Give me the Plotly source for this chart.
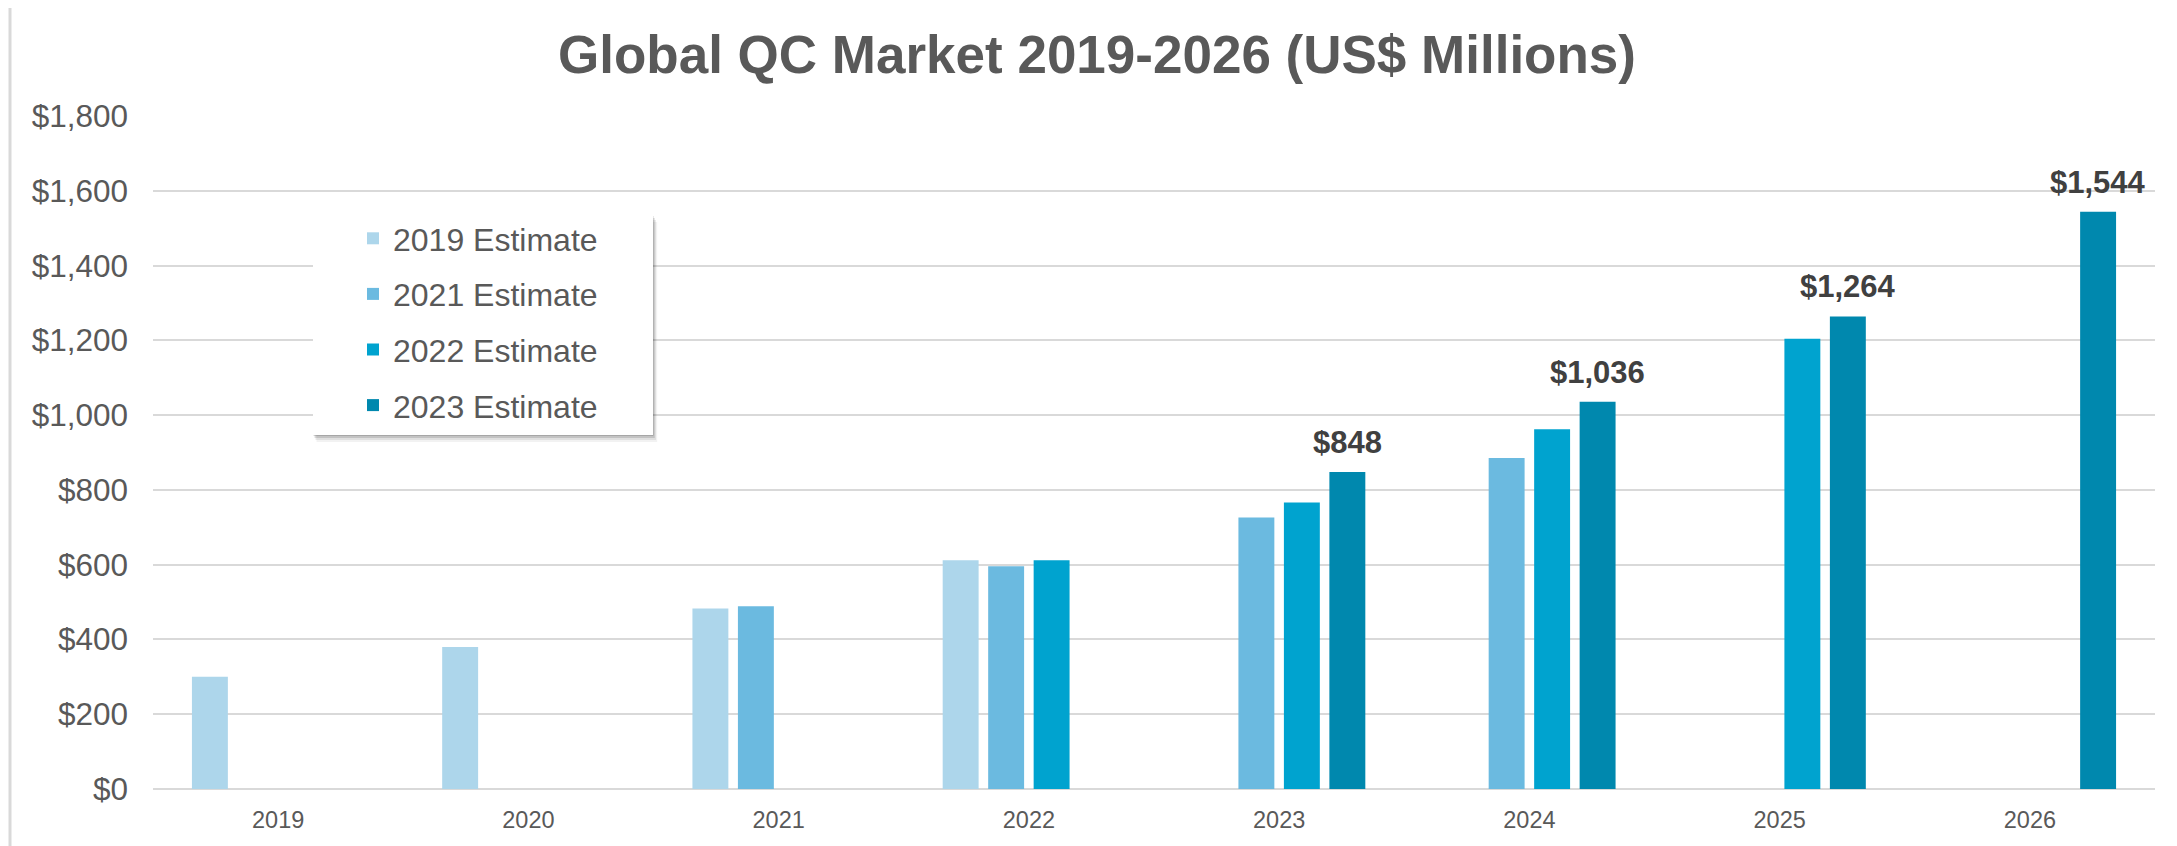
import plotly.graph_objects as go

categories = ["2019", "2020", "2021", "2022", "2023", "2024", "2025", "2026"]
series_names = ["2019 Estimate", "2021 Estimate", "2022 Estimate", "2023 Estimate"]
est_2019 = [300, 380, 483, 612, None, None, None, None]
est_2021 = [None, None, 489, 596, 726, 885, None, None]
est_2022 = [None, None, None, 612, 766, 962, 1204, None]
est_2023 = [None, None, None, None, 848, 1036, 1264, 1544]
series_values = [est_2019, est_2021, est_2022, est_2023]
series_colors = ["#ADD6EB", "#6BBAE0", "#00A3CF", "#0088AE"]
y_ticks = [0, 200, 400, 600, 800, 1000, 1200, 1400, 1600, 1800]
y_ticktext = [f"${v:,}" for v in y_ticks]

# the page body has an 8px default margin; work in page pixels and shift
OFF = 8
PAGE_W, PAGE_H = 2177, 846
W, H = PAGE_W - OFF, PAGE_H - OFF
PL, PR, PT, PB = 153, 2155, 116, 789          # plot area in page pixels
ML, MR, MT, MB = PL - OFF, PAGE_W - PR, PT - OFF, PAGE_H - PB
PW, PH = W - ML - MR, H - MT - MB

FONT = "Liberation Sans, Arial, sans-serif"
GREY = "#595959"

fig = go.Figure()
for i, (name, vals, col) in enumerate(zip(series_names, series_values, series_colors)):
    fig.add_trace(go.Bar(
        x=categories, y=vals, name=name, marker=dict(color=col, line=dict(width=0)),
        legendgroup=name, hoverinfo="skip",
    ))

# data labels for latest estimate
slot = PW / len(categories) * (1 - 0.273) / 4
for idx, v in enumerate(est_2023):
    if v is None:
        continue
    fig.add_annotation(
        x=idx, y=v, xref="x", yref="y", text=f"${v:,.0f}", showarrow=False,
        xshift=1.5 * slot, yanchor="bottom", yshift=10,
        font=dict(family=FONT, size=31, color="#404040", weight="bold"),
    )

def px_x(p):  # page pixel -> paper
    return (p - PL) / PW

def px_y(p):
    return (PB - p) / PH

shapes = []
# legend shadow + box
for k, op in [(7, 0.05), (5, 0.08), (3, 0.12), (1, 0.15)]:
    shapes.append(dict(type="rect", xref="paper", yref="paper", layer="above",
                       x0=px_x(313 + k * 0.5), x1=px_x(653 + k * 0.6),
                       y0=px_y(435 + k), y1=px_y(215 + k),
                       fillcolor=f"rgba(0,0,0,{op})", line=dict(width=0)))
shapes.append(dict(type="rect", xref="paper", yref="paper", layer="above",
                   x0=px_x(313), x1=px_x(653), y0=px_y(435), y1=px_y(215),
                   fillcolor="white", line=dict(width=0)))
# left frame line
shapes.append(dict(type="line", xref="paper", yref="paper", layer="above",
                   x0=px_x(10), x1=px_x(10), y0=px_y(846), y1=px_y(8),
                   line=dict(color="#D9D9D9", width=3)))

fig.update_layout(
    width=W, height=H,
    margin=dict(l=ML, r=MR, t=MT, b=MB, autoexpand=False),
    paper_bgcolor="white", plot_bgcolor="white",
    barmode="group", bargap=0.273, bargroupgap=0.21,
    title=dict(text="Global QC Market 2019-2026 (US$ Millions)",
               x=(1097 - OFF) / W, xref="container", xanchor="center",
               y=1 - (54.5 - OFF) / H, yref="container", yanchor="middle",
               font=dict(family=FONT, size=53, color=GREY, weight="bold")),
    font=dict(family=FONT, color=GREY),
    showlegend=True,
    legend=dict(x=px_x(353), y=px_y(211), xanchor="left", yanchor="top",
                bgcolor="rgba(0,0,0,0)", borderwidth=0,
                traceorder="grouped", tracegroupgap=11,
                font=dict(family=FONT, size=32, color=GREY)),
    shapes=shapes,
    xaxis=dict(type="category", categoryorder="array", categoryarray=categories,
               range=[-0.5, len(categories) - 0.5],
               showgrid=False, zeroline=False, showline=False,
               ticks="", tickfont=dict(family=FONT, size=23.5, color=GREY),
               ticklabelstandoff=14),
    yaxis=dict(range=[0, 1800], tickmode="array", tickvals=y_ticks, ticktext=y_ticktext,
               showgrid=True, gridcolor="#D9D9D9", gridwidth=2,
               zeroline=True, zerolinecolor="#D9D9D9", zerolinewidth=2,
               showline=False, ticks="",
               tickfont=dict(family=FONT, size=31.5, color=GREY),
               ticklabelstandoff=24),
)

fig.write_html("out.html")
